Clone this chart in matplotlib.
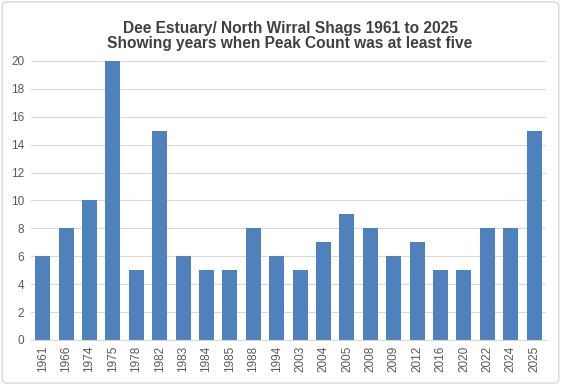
"""Dee Estuary / North Wirral shag peak counts, 1961 to 2025."""

import matplotlib.pyplot as plt
from matplotlib.patches import FancyBboxPatch

years = ['1961', '1966', '1974', '1975', '1978', '1982', '1983', '1984',
         '1985', '1988', '1994', '2003', '2004', '2005', '2008', '2009',
         '2012', '2016', '2020', '2022', '2024', '2025']
counts = [6, 8, 10, 20, 5, 15, 6, 5, 5, 8, 6, 5, 7, 9, 8, 6, 7, 5, 5, 8,
          8, 15]
yticks = list(range(0, 21, 2))


def main():
    plt.rcParams['font.family'] = ['Liberation Sans', 'DejaVu Sans']

    fig = plt.figure(figsize=(5.61, 3.85), dpi=100)

    # rounded chart border, kept behind the axes
    fig.patches.append(FancyBboxPatch(
        (0.004, 0.005), 0.992, 0.99, boxstyle='round,pad=0,rounding_size=0.01',
        transform=fig.transFigure, facecolor='white', edgecolor='#d9d9d9',
        linewidth=1.0, zorder=-10))

    ax = fig.add_axes([0.0553, 0.117, 0.9177, 0.7246])
    ax.set_facecolor('none')

    x = range(len(years))
    ax.bar(x, counts, width=0.64, color='#4f81bd', zorder=2)

    ax.set_xlim(-0.5, len(years) - 0.5)
    ax.set_ylim(0, 20)
    ax.set_yticks(yticks)
    ax.set_xticks(list(x))
    ax.set_xticklabels(years, rotation=90)
    ax.tick_params(axis='both', length=0, labelsize=8.5, colors='#595959')
    ax.tick_params(axis='x', pad=4)
    ax.tick_params(axis='y', pad=5)

    ax.grid(axis='y', color='#d9d9d9', linewidth=0.8, zorder=0)
    for side in ['top', 'right', 'left']:
        ax.spines[side].set_visible(False)
    ax.spines['bottom'].set_color('#d9d9d9')

    fig.text(0.517, 0.906, 'Dee Estuary/ North Wirral Shags 1961 to 2025\n'
             'Showing years when Peak Count was at least five',
             ha='center', va='center', fontsize=11.2, fontweight='bold',
             color='#404040', linespacing=1.05)

    fig.savefig('out.png', dpi=100)


if __name__ == '__main__':
    main()
